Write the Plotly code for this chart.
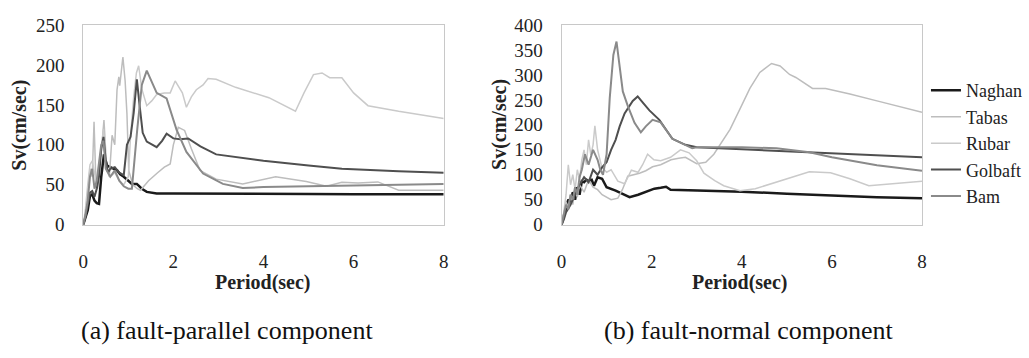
import plotly.graph_objects as go

# ---------------- data: (a) fault-parallel component ----------------
naghan_a_T = [0, 0.05, 0.1, 0.15, 0.2, 0.25, 0.3, 0.35, 0.4, 0.46, 0.53, 0.6, 0.68, 0.75, 0.82, 0.9, 1.0, 1.08, 1.19, 1.3, 1.41, 1.63, 2.0, 3.0, 4.0, 5.0, 6.0, 7.0, 8.0]
naghan_a_Sv = [0, 8, 18, 36, 38, 30, 27, 26, 60, 88, 74, 72, 70, 68, 63, 60, 55, 51, 51, 45, 41, 39, 39, 39, 38.5, 38.5, 38, 38, 38]

tabas_a_T = [0, 0.05, 0.1, 0.15, 0.2, 0.24, 0.28, 0.32, 0.36, 0.4, 0.46, 0.52, 0.58, 0.64, 0.7, 0.75, 0.79, 0.81, 0.88, 0.93, 0.97, 1.01, 1.1, 1.2, 1.27, 1.45, 1.65, 1.8, 1.93, 2.0, 2.11, 2.25, 2.4, 2.59, 2.95, 3.54, 4.27, 4.95, 5.4, 5.74, 6.1, 6.54, 7.0, 7.5, 8.0]
tabas_a_Sv = [0, 15, 40, 70, 60, 129, 55, 45, 80, 90, 131, 70, 60, 112, 100, 169, 185, 174, 210, 180, 139, 68, 50, 45, 43, 55, 65, 72, 76, 100, 122, 118, 95, 68, 57, 51, 60, 54, 48, 53, 52, 53.5, 43, 43, 43]

rubar_a_T = [0, 0.05, 0.1, 0.15, 0.2, 0.25, 0.3, 0.35, 0.4, 0.45, 0.5, 0.6, 0.7, 0.8, 0.9, 1.0, 1.05, 1.12, 1.18, 1.23, 1.3, 1.41, 1.52, 1.63, 1.8, 1.93, 2.04, 2.2, 2.29, 2.4, 2.51, 2.66, 2.77, 2.95, 3.38, 4.12, 4.71, 4.9, 5.11, 5.3, 5.47, 5.74, 6.0, 6.32, 7.0, 8.0]
rubar_a_Sv = [0, 20, 50, 75, 80, 65, 50, 70, 95, 120, 75, 60, 65, 55, 50, 60, 110, 160, 190, 199, 170, 149, 155, 163, 165, 165, 180, 165, 147, 160, 169, 175, 183, 182, 172, 159, 142, 165, 188, 190, 184, 184, 165, 149, 142, 133]

golbaft_a_T = [0, 0.05, 0.1, 0.15, 0.2, 0.25, 0.3, 0.35, 0.4, 0.45, 0.5, 0.55, 0.6, 0.7, 0.8, 0.9, 0.97, 1.05, 1.12, 1.19, 1.25, 1.32, 1.41, 1.52, 1.63, 1.75, 1.85, 2.0, 2.15, 2.33, 2.6, 2.95, 3.5, 4.0, 5.0, 5.74, 7.0, 8.0]
golbaft_a_Sv = [0, 10, 25, 40, 42, 35, 45, 60, 95, 110, 80, 65, 70, 72, 65, 62, 100, 110, 140, 182, 150, 115, 104, 100, 97, 105, 114, 108, 107, 108, 98, 88, 84, 80, 74, 70, 67, 65]

bam_a_T = [0, 0.05, 0.1, 0.15, 0.2, 0.25, 0.3, 0.35, 0.4, 0.45, 0.5, 0.6, 0.7, 0.8, 0.9, 1.0, 1.08, 1.2, 1.3, 1.41, 1.52, 1.63, 1.85, 2.07, 2.29, 2.66, 3.1, 3.54, 4.0, 5.0, 6.0, 7.0, 8.0]
bam_a_Sv = [0, 12, 30, 60, 70, 45, 55, 75, 100, 105, 70, 60, 68, 55, 48, 45, 45, 120, 175, 193, 180, 165, 158, 119, 91, 64, 51, 46, 47, 48, 49, 50, 51]

# ---------------- data: (b) fault-normal component ----------------
naghan_b_T = [0, 0.05, 0.1, 0.15, 0.2, 0.25, 0.3, 0.35, 0.4, 0.45, 0.5, 0.55, 0.6, 0.67, 0.72, 0.8, 0.9, 1.0, 1.2, 1.51, 1.7, 1.9, 2.06, 2.2, 2.32, 2.42, 3.0, 4.0, 5.0, 6.0, 7.0, 8.0]
naghan_b_Sv = [0, 15, 30, 50, 45, 65, 50, 75, 60, 87, 85, 90, 88, 90, 78, 95, 92, 75, 68, 55, 60, 67, 72, 74, 76, 70, 69, 66, 62, 58, 55, 53]

tabas_b_T = [0, 0.05, 0.1, 0.15, 0.2, 0.25, 0.3, 0.35, 0.4, 0.5, 0.6, 0.7, 0.8, 0.9, 1.0, 1.1, 1.25, 1.35, 1.47, 1.6, 1.73, 1.87, 2.02, 2.2, 2.43, 2.6, 2.75, 3.0, 3.2, 3.38, 3.55, 3.74, 3.95, 4.18, 4.4, 4.66, 4.85, 5.06, 5.2, 5.36, 5.57, 5.86, 6.4, 7.0, 7.5, 8.0]
tabas_b_Sv = [0, 20, 45, 35, 60, 40, 70, 55, 80, 65, 90, 75, 70, 60, 55, 50, 53, 70, 97, 100, 103, 108, 116, 120, 130, 133, 135, 122, 125, 141, 165, 191, 230, 273, 305, 323, 318, 301, 295, 285, 273, 273, 262, 248, 237, 225]

rubar_b_T = [0, 0.05, 0.1, 0.15, 0.2, 0.25, 0.3, 0.35, 0.4, 0.45, 0.5, 0.55, 0.6, 0.65, 0.7, 0.74, 0.8, 0.89, 1.0, 1.1, 1.25, 1.4, 1.55, 1.7, 1.8, 1.91, 2.05, 2.2, 2.42, 2.64, 2.83, 3.0, 3.16, 3.4, 3.6, 3.96, 4.3, 4.62, 5.0, 5.5, 5.97, 6.4, 6.82, 7.3, 8.0]
rubar_b_Sv = [0, 25, 60, 120, 80, 100, 70, 110, 90, 130, 150, 120, 170, 140, 160, 198, 150, 116, 105, 110, 87, 82, 109, 105, 120, 141, 130, 128, 135, 150, 144, 128, 103, 88, 78, 68, 72, 81, 92, 106, 104, 92, 78, 82, 87]

golbaft_b_T = [0, 0.05, 0.1, 0.2, 0.3, 0.4, 0.5, 0.6, 0.7, 0.8, 0.9, 1.0, 1.1, 1.2, 1.29, 1.4, 1.58, 1.69, 1.8, 1.95, 2.17, 2.46, 2.75, 3.0, 4.0, 5.0, 6.0, 7.0, 8.0]
golbaft_b_Sv = [0, 10, 25, 40, 60, 80, 95, 85, 110, 100, 115, 125, 150, 170, 197, 223, 248, 257, 245, 229, 210, 172, 160, 155, 151, 147, 143, 138, 135]

bam_b_T = [0, 0.05, 0.1, 0.15, 0.2, 0.25, 0.3, 0.35, 0.4, 0.45, 0.52, 0.6, 0.7, 0.8, 0.86, 0.92, 1.0, 1.07, 1.15, 1.22, 1.29, 1.36, 1.47, 1.62, 1.76, 1.87, 2.02, 2.2, 2.46, 2.9, 3.0, 4.0, 4.77, 5.5, 6.0, 7.0, 8.0]
bam_b_Sv = [0, 20, 40, 30, 60, 50, 75, 60, 95, 110, 141, 120, 150, 130, 110, 100, 141, 254, 340, 367, 320, 267, 238, 204, 185, 197, 210, 205, 172, 153, 155, 155, 153, 145, 135, 119, 108]

names = ["Naghan", "Tabas", "Rubar", "Golbaft", "Bam"]
colors = ["#1a1a1a", "#bdbdbd", "#cacaca", "#4f4f4f", "#8a8a8a"]
widths = [2.5, 1.5, 1.5, 2.0, 2.0]

series_a = [(naghan_a_T, naghan_a_Sv), (tabas_a_T, tabas_a_Sv), (rubar_a_T, rubar_a_Sv),
            (golbaft_a_T, golbaft_a_Sv), (bam_a_T, bam_a_Sv)]
series_b = [(naghan_b_T, naghan_b_Sv), (tabas_b_T, tabas_b_Sv), (rubar_b_T, rubar_b_Sv),
            (golbaft_b_T, golbaft_b_Sv), (bam_b_T, bam_b_Sv)]

FONT = "Liberation Serif, Times New Roman, serif"
W, H = 1029, 358

fig = go.Figure()
for i, (T, S) in enumerate(series_a):
    fig.add_trace(go.Scatter(x=T, y=S, mode="lines", name=names[i], legendgroup=names[i],
                             showlegend=False, line=dict(color=colors[i], width=widths[i]),
                             xaxis="x", yaxis="y"))
for i, (T, S) in enumerate(series_b):
    fig.add_trace(go.Scatter(x=T, y=S, mode="lines", name=names[i], legendgroup=names[i],
                             showlegend=True, line=dict(color=colors[i], width=widths[i]),
                             xaxis="x2", yaxis="y2"))

ydom = [1 - 228 / H, 1 - 16 / H]
axcommon = dict(showline=True, mirror=True, linecolor="#c8c8c8", linewidth=1,
                showgrid=False, zeroline=False, ticks="",
                tickfont=dict(family=FONT, size=19, color="#222"))

fig.update_layout(
    width=W, height=H,
    margin=dict(l=0, r=0, t=0, b=0),
    paper_bgcolor="white", plot_bgcolor="white",
    font=dict(family=FONT, color="#222"),
    xaxis=dict(domain=[79 / W, 443 / W], range=[0, 8], dtick=2, anchor="y",
               ticklabelstandoff=20, **axcommon),
    yaxis=dict(domain=ydom, range=[0, 250], dtick=50, anchor="x",
               ticklabelstandoff=14, **axcommon),
    xaxis2=dict(domain=[562 / W, 926 / W], range=[0, 8], dtick=2, anchor="y2",
                ticklabelstandoff=20, **axcommon),
    yaxis2=dict(domain=ydom, range=[0, 400], dtick=50, anchor="x2",
                ticklabelstandoff=14, **axcommon),
    legend=dict(x=930 / W, xanchor="left", y=1 - 66 / H, yanchor="top",
                font=dict(family=FONT, size=18, color="#222"),
                bgcolor="rgba(0,0,0,0)", tracegroupgap=0, itemwidth=30),
    showlegend=True,
)

ann = []
for xc in [15, 500]:
    ann.append(dict(text="<b>Sv(cm/sec)</b>", x=xc / W, y=1 - 122 / H, xref="paper", yref="paper",
                    xanchor="center", yanchor="middle",
                    textangle=-90, showarrow=False, font=dict(family=FONT, size=20, color="#222")))
for xc in [261, 742]:
    ann.append(dict(text="<b>Period(sec)</b>", x=xc / W, y=1 - 289 / H, xref="paper", yref="paper",
                    xanchor="center", yanchor="middle",
                    showarrow=False, font=dict(family=FONT, size=20, color="#222")))
ann.append(dict(text="(a) fault-parallel component", x=224 / W, y=1 - 340 / H, xref="paper", yref="paper",
                xanchor="center", yanchor="middle",
                showarrow=False, font=dict(family=FONT, size=26, color="#111")))
ann.append(dict(text="(b) fault-normal component", x=751 / W, y=1 - 340 / H, xref="paper", yref="paper",
                xanchor="center", yanchor="middle",
                showarrow=False, font=dict(family=FONT, size=26, color="#111")))
fig.update_layout(annotations=ann)

fig.write_html("out.html")
